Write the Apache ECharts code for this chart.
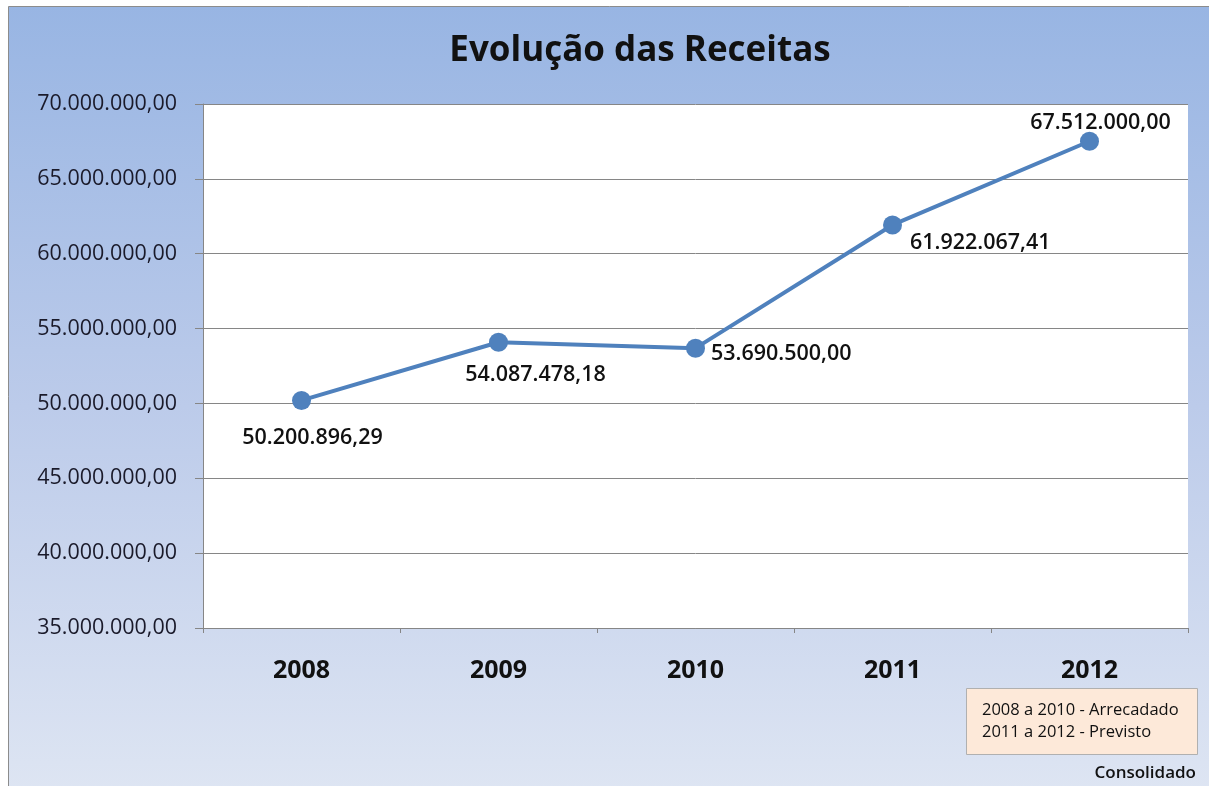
<!DOCTYPE html>
<html>
<head>
<meta charset="utf-8">
<script src="https://cdn.jsdelivr.net/npm/echarts@6/dist/echarts.min.js"></script>
<style>
  html, body { margin: 0; padding: 0; background: #ffffff; }
  #chart { width: 1209px; height: 786px; }
</style>
</head>
<body>
<div id="chart"></div>
<script>
// dados
var anos = ['2008', '2009', '2010', '2011', '2012'];
var receitas = [50200896.29, 54087478.18, 53690500.00, 61922067.41, 67512000.00];
var notaLinhas = ['2008 a 2010 - Arrecadado', '2011 a 2012 - Previsto'];

var fontFam = '"Open Sans", "Noto Sans", sans-serif';

function formatBR(v) {
    var parts = Number(v).toFixed(2).split('.');
    var inteiro = parts[0].replace(/\B(?=(\d{3})+(?!\d))/g, '.');
    return inteiro + ',' + parts[1];
}

// posição dos rótulos de cada ponto
var labelPos = [
    { position: 'bottom', offset: [11, 7] },
    { position: 'bottom', offset: [37, 2] },
    { position: 'right', offset: [-4, 6] },
    { position: 'right', offset: [-2, 18] },
    { position: 'top', offset: [11, 12] }
];

var chart = echarts.init(document.getElementById('chart'));

var option = {
    animation: false,
    backgroundColor: 'transparent',
    graphic: [
        {
            type: 'rect',
            z: -10,
            shape: { x: 8.5, y: 6.5, width: 1220, height: 800 },
            style: {
                fill: new echarts.graphic.LinearGradient(0, 0, 0, 1, [
                    { offset: 0, color: '#98b5e3' },
                    { offset: 0.5, color: '#bccbea' },
                    { offset: 1, color: '#dfe6f3' }
                ]),
                stroke: '#8c8c8c',
                lineWidth: 1
            }
        },
        {
            type: 'text',
            z: 11,
            style: {
                x: 640,
                y: 51,
                text: 'Evolução das Receitas',
                textAlign: 'center',
                textVerticalAlign: 'middle',
                font: 'bold 35px ' + fontFam,
                fill: '#111111'
            }
        },
        {
            type: 'rect',
            z: 10,
            shape: { x: 966.5, y: 688.5, width: 231, height: 66 },
            style: { fill: '#fde9d9', stroke: '#b0b0b0', lineWidth: 1 }
        },
        {
            type: 'text',
            z: 11,
            style: {
                x: 982,
                y: 721,
                text: notaLinhas.join('\n'),
                textVerticalAlign: 'middle',
                font: '16.5px ' + fontFam,
                lineHeight: 22,
                fill: '#111111'
            }
        },
        {
            type: 'text',
            z: 11,
            style: {
                x: 1196,
                y: 773,
                text: 'Consolidado',
                textAlign: 'right',
                textVerticalAlign: 'middle',
                font: '600 17px ' + fontFam,
                fill: '#111111'
            }
        }
    ],
    grid: {
        left: 203,
        right: 21,
        top: 104,
        bottom: 158,
        show: true,
        backgroundColor: '#ffffff',
        borderWidth: 0
    },
    xAxis: {
        type: 'category',
        data: anos,
        boundaryGap: true,
        axisLine: { lineStyle: { color: '#868686', width: 1 } },
        axisTick: { show: true, length: 5, lineStyle: { color: '#868686' } },
        axisLabel: {
            margin: 30,
            fontFamily: fontFam,
            fontSize: 25,
            fontWeight: 'bold',
            color: '#111111'
        }
    },
    yAxis: {
        type: 'value',
        min: 35000000,
        max: 70000000,
        interval: 5000000,
        axisLine: { show: true, lineStyle: { color: '#868686', width: 1 } },
        axisTick: { show: true, length: 8, lineStyle: { color: '#868686' } },
        splitLine: { lineStyle: { color: '#868686', width: 1 } },
        axisLabel: {
            margin: 26,
            fontFamily: fontFam,
            fontSize: 21.5,
            color: '#1a1a2a',
            formatter: function (v) { return formatBR(v); }
        }
    },
    series: [{
        type: 'line',
        data: receitas.map(function (v, i) {
            return {
                value: v,
                label: {
                    position: labelPos[i].position,
                    offset: labelPos[i].offset
                }
            };
        }),
        symbol: 'circle',
        symbolSize: 19,
        lineStyle: { color: '#4f81bd', width: 4 },
        itemStyle: { color: '#4f81bd' },
        label: {
            show: true,
            distance: 10,
            fontFamily: fontFam,
            fontSize: 21.5,
            fontWeight: 600,
            color: '#111111',
            formatter: function (p) { return formatBR(p.value); }
        }
    }]
};

chart.setOption(option);
</script>
</body>
</html>
